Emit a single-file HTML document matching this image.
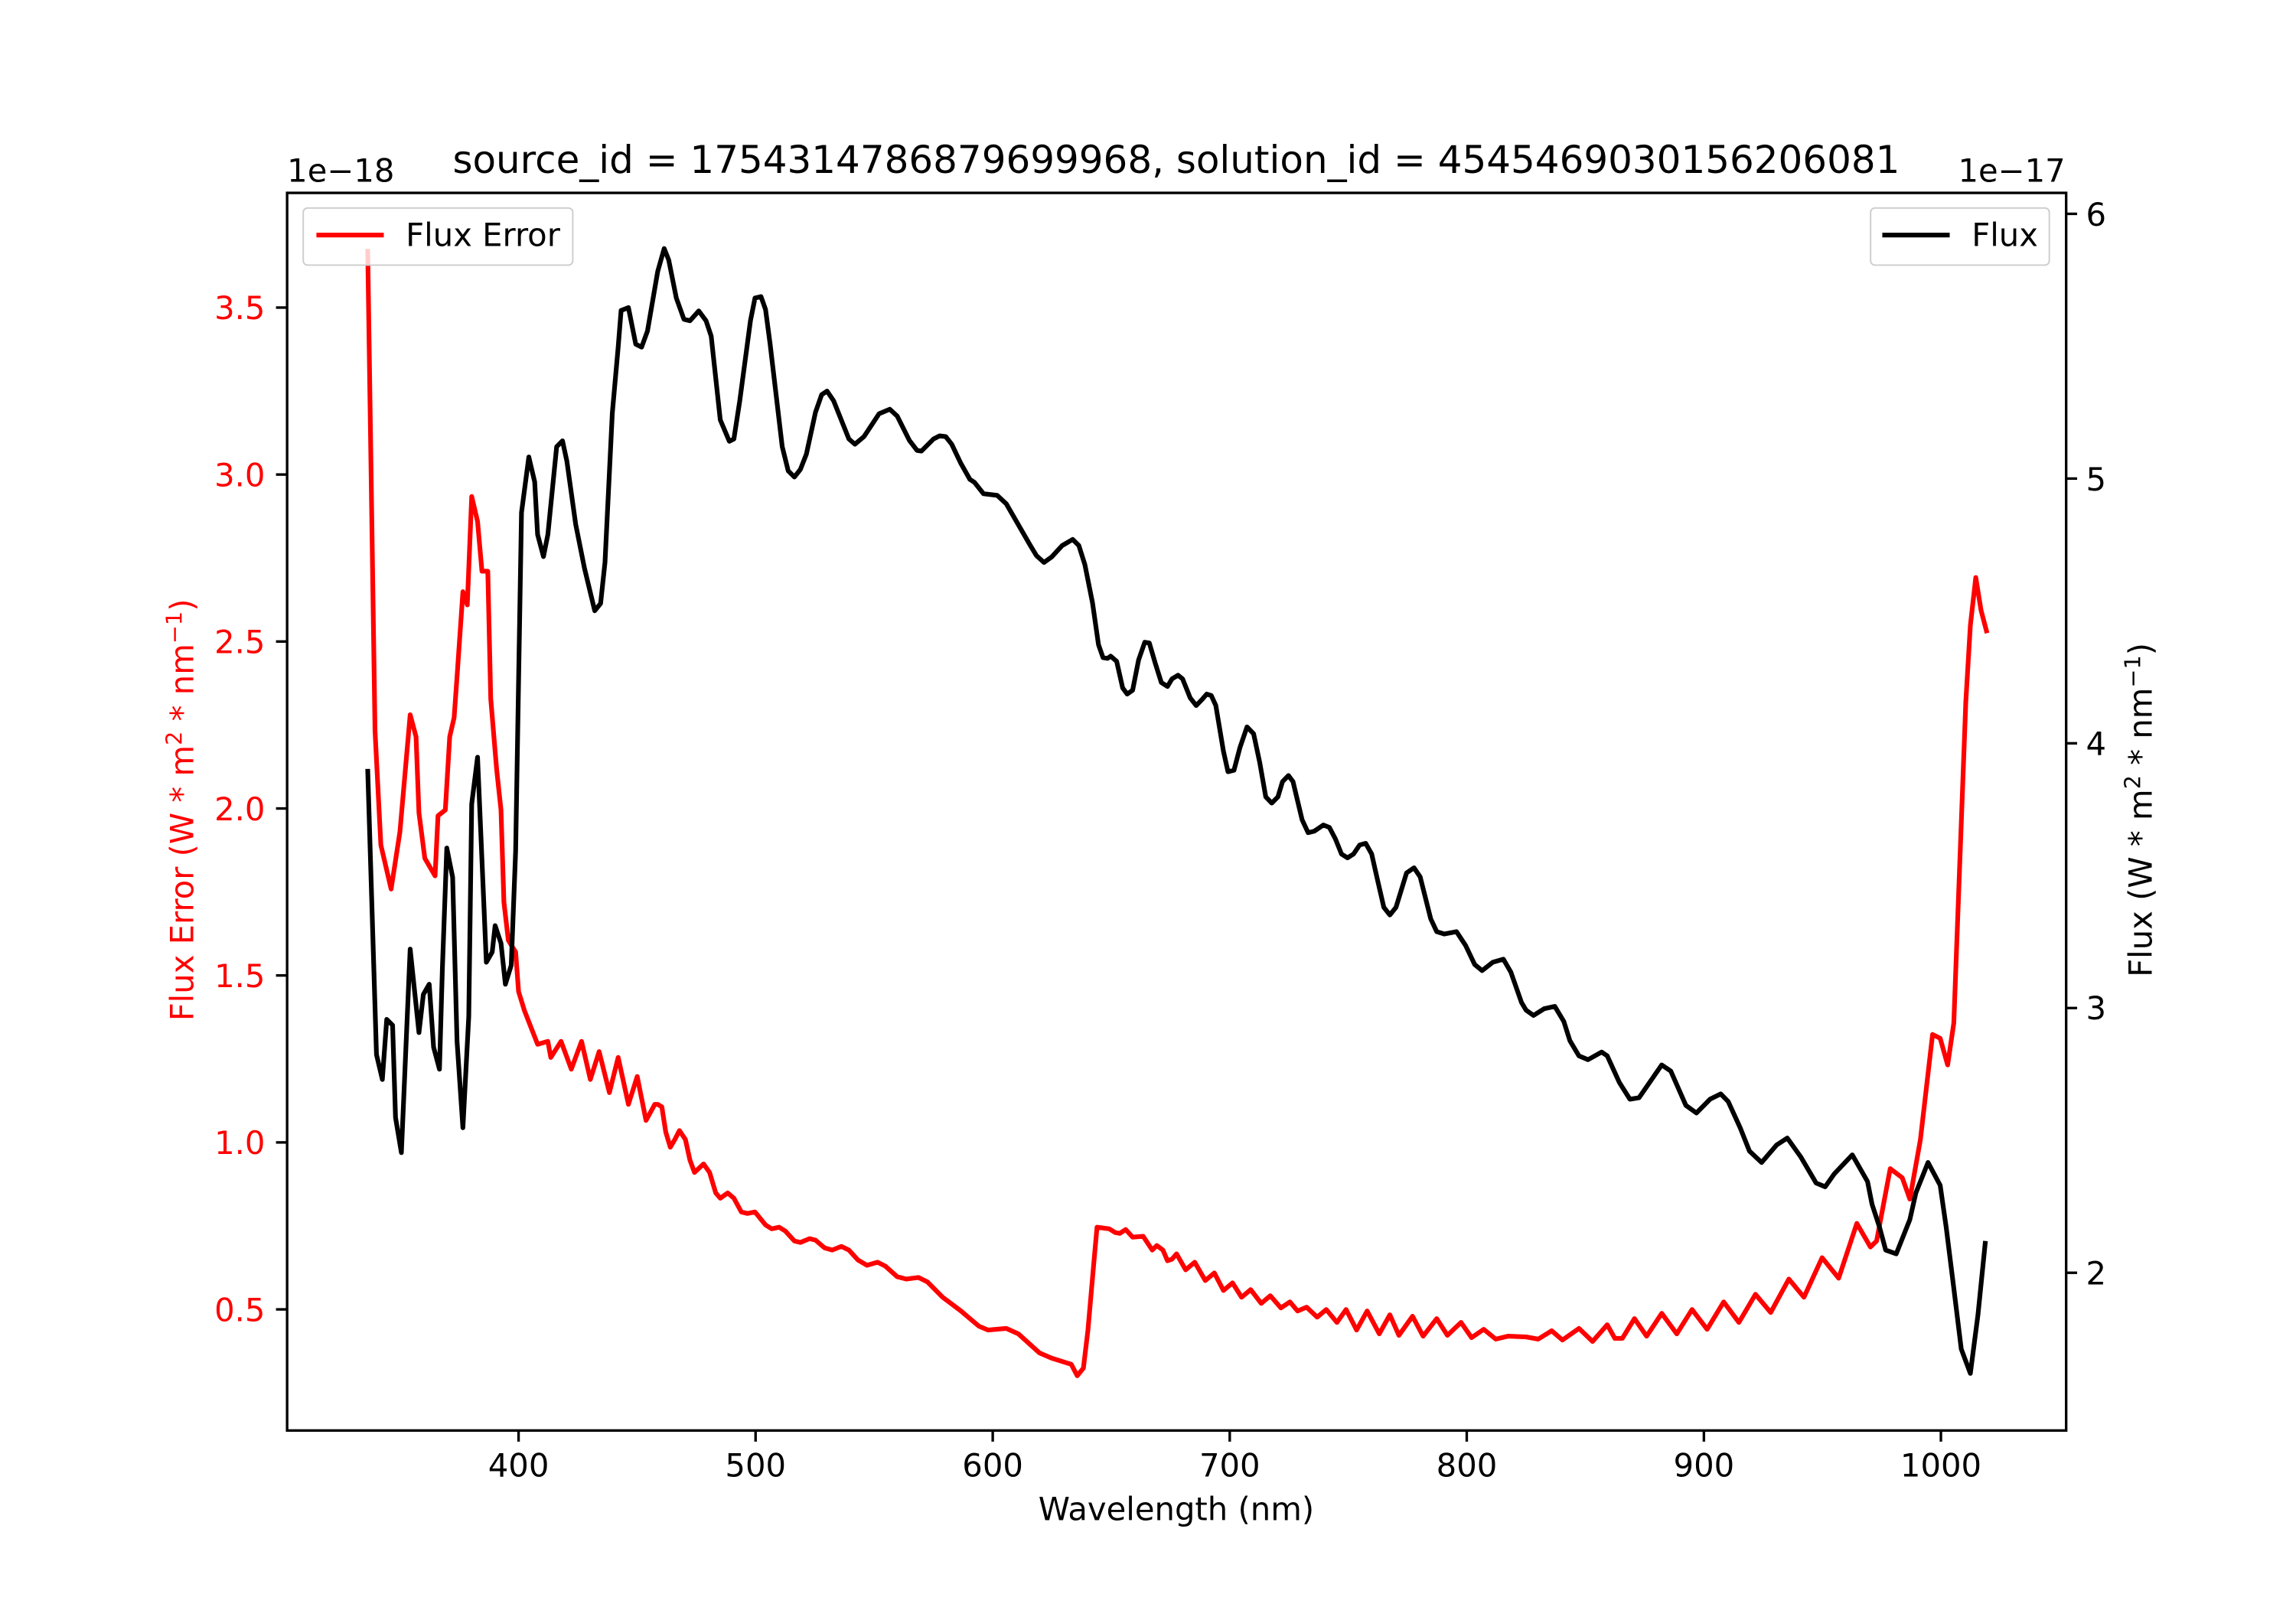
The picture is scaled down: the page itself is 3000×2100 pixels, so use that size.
<!DOCTYPE html>
<html><head><meta charset="utf-8"><style>html,body{margin:0;padding:0;background:#fff}svg{display:block}</style></head>
<body>
<svg width="3000" height="2100" viewBox="0 0 1567.4 1097.2" xmlns="http://www.w3.org/2000/svg" font-family="'DejaVu Sans','Liberation Sans',sans-serif">
<rect x="0" y="0" width="1567.4" height="1097.2" fill="#fff"/>
<!-- red series -->
<polyline fill="none" stroke="#ff0000" stroke-width="3.2" stroke-linejoin="round" points="251,170 256,499 260,577 267,607 273,568 280,488 284,503 286,555 290,586 297,598 299,557 304,553 307,503 310,490 312,462 316,404 319,413 322,339 326,356 329,390 333,390 335,477 339,525 342,553 344,616 347,642 352,650 354,677 358,690 367,713 374,711 376,722 383,711 390,730 397,711 403,737 409,718 416,746 422,722 429,754 435,735 441,765 447,754 449,754 451.8,755.7 454.5,773 457.6,783.3 460.7,778 463.8,771.9 467.9,778 471,792.1 474.1,800.5 480.3,794.7 484.4,800.5 488.6,814.5 491.7,818.1 496.8,814.5 501,818.1 506.1,827.5 510.2,828.5 515.4,827.5 522.6,836.3 526.8,839 531.9,837.9 536.1,840.5 542.3,847.3 546.4,848.3 552.6,845.7 556.7,846.7 562.9,852 568.1,853.5 574.3,851 579.5,853.5 585.7,860.3 591.9,863.9 599.1,861.8 604.3,864.4 612.5,871.7 618.7,873.3 627,872.2 633.2,875.3 643.5,885.7 655.9,895 668.3,905.5 674.5,908.1 686.9,907 695.2,910.7 709.6,923.7 717.9,927.3 731.3,931.5 735.4,939.3 739.6,934.1 742.7,908.1 746.8,861.3 748.9,837.9 757.2,839 761.3,841.5 764.4,842.1 768.5,839.5 773.2,844.7 780.4,844.1 786.6,853.5 789.7,850.4 793.9,853.5 797,860.8 800.1,859.7 803.2,856.1 809.4,867 815.6,861.8 822.8,874.3 829,869.1 835.2,881.1 841.4,875.9 847.6,885.7 853.8,880.5 861,889.9 867.2,884.7 874.4,893 880.6,888.9 885.8,895.1 892,892.5 899.2,899.3 905.4,894.1 912.7,902.9 918.9,894.1 926.1,908.1 933.3,895.1 941.6,910.7 948.8,897.7 955,911.7 964.3,898.7 971.5,912.3 980.8,900.3 988.1,911.7 997.4,902.9 1004.6,913.3 1012.9,907.6 1021.1,914.3 1029.4,912.3 1041.8,912.8 1050.1,914.3 1059.3,908.6 1066.6,914.9 1077.9,907 1087.2,915.9 1097.2,904.5 1102.4,913.8 1107.5,913.8 1115.8,900.3 1124.1,912.3 1134.4,896.7 1144.7,910.7 1155.1,894.1 1165.4,907.6 1176.7,888.9 1187.1,902.9 1198.4,883.7 1208.8,896.1 1221.2,873.3 1231.5,885.7 1243.9,858.7 1255.2,872.7 1267.6,835.3 1276.9,851.4 1281.1,847.3 1290.4,797.9 1298.6,804.1 1303.8,818.7 1311,778.1 1319.3,706.3 1324.5,708.9 1329.6,727.1 1333.8,698.5 1342,479.1 1345.1,427.1 1348.8,394.3 1352.4,416.7 1356.5,432.3"/>
<!-- red legend -->
<rect x="207" y="142" width="184" height="39" rx="3" fill="#fff" fill-opacity="0.8" stroke="#cccccc" stroke-width="1"/>
<line x1="216" y1="160.5" x2="262" y2="160.5" stroke="#ff0000" stroke-width="3.2"/>
<text x="277" y="168" font-size="21.8" fill="#000">Flux Error</text>
<!-- black series -->
<polyline fill="none" stroke="#000" stroke-width="3.2" stroke-linejoin="round" points="251,525 257,720 261,737 264,696 268,700 270,763 274,787 280,648 286,705 289,679 293,672 296,715 300,730 302,661 305,579 309,599 312,711 316,770 320,694 322,549 326,517 332,657 336,650 338,632 342,644 345,672 349,659 352,581 356,350 361,312 365,329 367,365 371,380 374,365 380,305 384,301 387,315 393,358 399,388 406,417 410,412 413,384 418,282 422,237 424,212 429,210 434,235 438,237 442,226 449,185.3 453.4,169.7 456.5,177.5 461.7,203.5 466.9,218 471,219 477,212.3 482,219 485.5,229.5 491.7,286.7 497.9,301.3 501,299.7 505,273.7 512.3,219 515.4,203.5 519.5,202.5 522.6,211.3 525.7,234.7 534,305 538.1,321.5 542.3,325.7 546.4,320.5 550.5,310 556.7,281.5 560.9,269.5 564.6,267 569.1,273.7 579.5,299.7 583.6,303.3 589.8,298.1 600.1,282.5 607.4,279.4 612.5,284.1 620.8,300.7 626,307.5 629,308 637.3,299.7 641.4,297.6 645.6,298.1 649.7,303.3 655.9,316.3 662.1,327.3 665.2,329.3 671.4,337.1 680.7,338.2 686.9,343.9 703.4,372.5 707.5,379.3 712.7,384 717.9,380.3 725.1,372.5 732.3,368.3 736.5,372.5 740.6,385.5 745.8,411.5 749.9,440.1 753,449 756.1,449.5 758.2,448 762.3,451.5 766.4,469.7 769.5,473.9 773.2,471.3 777.3,450.5 781.5,438.5 784.6,439 788.7,453 792.8,466 797,468.7 800.1,463.5 804.2,461 807.3,463.5 812.5,476.5 816.6,481.7 820.7,477.5 823.8,473.9 826.9,474.9 830,481.7 835.2,512.9 838.3,526.9 842.4,525.9 846.5,510.3 851.3,496.3 855.8,501 860,520.7 864.1,544.1 868.2,548.3 872.4,544.1 875.5,533.7 879.6,529.5 882.7,533.7 888.9,559.7 893,568.5 897.2,567.5 903.4,563.3 907.5,564.9 911.6,572.7 915.8,583.1 919.9,585.7 924,583.1 928.2,576.9 932.3,575.8 936.4,583.1 940.5,601.3 944.7,619.5 948.8,624.7 953,619.5 960.2,596 965.3,592.5 969.5,598.7 976.7,627.3 980.8,636.1 986,637.7 994.3,636.1 1000.5,645.5 1006.7,658.5 1011.8,662.7 1019.1,657 1026.3,654.9 1031.4,663.7 1038.7,684.5 1041.8,689.7 1046.9,693.3 1054.2,688.7 1061.4,687.1 1067.6,697.5 1071.7,710.5 1077.9,720.9 1084.1,723.5 1093.4,718.3 1097.2,720.9 1105.5,739.1 1112.7,750.5 1118.9,749.5 1126.1,739.1 1134.4,727.1 1140.6,731.3 1150.9,754.7 1158.1,759.9 1167.4,750.5 1174.7,746.9 1179.8,752.1 1188.1,770.3 1194.3,785.9 1202.6,793.7 1212.9,781.7 1220.1,777 1229.4,790 1239.8,807.7 1246,810.3 1252.2,801.5 1264.5,788.5 1274.9,806.7 1278,822.3 1283.1,837.9 1287.3,853.5 1294.5,856.1 1303.8,832.7 1307.9,814.5 1316.2,793.7 1324.5,809.3 1328.6,837.9 1333.8,879.5 1338.9,921.1 1345.1,937.7 1350.3,897.7 1355.4,847.3"/>
<!-- black legend -->
<rect x="1277" y="142" width="122" height="39" rx="3" fill="#fff" fill-opacity="0.8" stroke="#cccccc" stroke-width="1"/>
<line x1="1285" y1="160.5" x2="1331" y2="160.5" stroke="#000" stroke-width="3.2"/>
<text x="1346" y="168" font-size="21.8" fill="#000">Flux</text>
<!-- axes frame -->
<rect x="196" y="131.7" width="1214.5" height="845" fill="none" stroke="#000" stroke-width="1.75"/>
<!-- x ticks -->
<g stroke="#000" stroke-width="1.75">
<line x1="354" y1="976.7" x2="354" y2="984.3"/><line x1="515.8" y1="976.7" x2="515.8" y2="984.3"/><line x1="677.7" y1="976.7" x2="677.7" y2="984.3"/><line x1="839.5" y1="976.7" x2="839.5" y2="984.3"/><line x1="1001.3" y1="976.7" x2="1001.3" y2="984.3"/><line x1="1163.2" y1="976.7" x2="1163.2" y2="984.3"/><line x1="1325" y1="976.7" x2="1325" y2="984.3"/>
</g>
<g font-size="21.8" text-anchor="middle" fill="#000">
<text x="354" y="1008">400</text><text x="515.8" y="1008">500</text><text x="677.7" y="1008">600</text><text x="839.5" y="1008">700</text><text x="1001.3" y="1008">800</text><text x="1163.2" y="1008">900</text><text x="1325" y="1008">1000</text>
</g>
<text x="803" y="1038" font-size="21.8" text-anchor="middle">Wavelength (nm)</text>
<!-- left ticks -->
<g stroke="#000" stroke-width="1.75">
<line x1="188.4" y1="894" x2="196" y2="894"/><line x1="188.4" y1="780" x2="196" y2="780"/><line x1="188.4" y1="666" x2="196" y2="666"/><line x1="188.4" y1="552" x2="196" y2="552"/><line x1="188.4" y1="438" x2="196" y2="438"/><line x1="188.4" y1="324" x2="196" y2="324"/><line x1="188.4" y1="210" x2="196" y2="210"/>
</g>
<g font-size="21.8" text-anchor="end" fill="#ff0000">
<text x="181" y="902">0.5</text><text x="181" y="788">1.0</text><text x="181" y="674">1.5</text><text x="181" y="560">2.0</text><text x="181" y="446">2.5</text><text x="181" y="332">3.0</text><text x="181" y="218">3.5</text>
</g>
<text x="196" y="124" font-size="21.8">1e−18</text>
<text transform="translate(132,553) rotate(-90)" font-size="21.8" text-anchor="middle" fill="#ff0000">Flux Error (W * m<tspan font-size="15" dy="-8">2</tspan><tspan dy="8"> * nm</tspan><tspan font-size="15" dy="-8">−1</tspan><tspan dy="8">)</tspan></text>
<!-- right ticks -->
<g stroke="#000" stroke-width="1.75">
<line x1="1410.5" y1="869" x2="1418" y2="869"/><line x1="1410.5" y1="688.25" x2="1418" y2="688.25"/><line x1="1410.5" y1="507.5" x2="1418" y2="507.5"/><line x1="1410.5" y1="326.75" x2="1418" y2="326.75"/><line x1="1410.5" y1="146" x2="1418" y2="146"/>
</g>
<g font-size="21.8" fill="#000">
<text x="1424" y="877">2</text><text x="1424" y="696">3</text><text x="1424" y="515.5">4</text><text x="1424" y="335">5</text><text x="1424" y="154">6</text>
</g>
<text x="1410" y="124" font-size="21.8" text-anchor="end">1e−17</text>
<text transform="translate(1469,553) rotate(-90)" font-size="21.8" text-anchor="middle" fill="#000">Flux (W * m<tspan font-size="15" dy="-8">2</tspan><tspan dy="8"> * nm</tspan><tspan font-size="15" dy="-8">−1</tspan><tspan dy="8">)</tspan></text>
<!-- title -->
<text x="803" y="118" font-size="26.1" text-anchor="middle">source_id = 1754314786879699968, solution_id = 4545469030156206081</text>
</svg>
</body></html>
